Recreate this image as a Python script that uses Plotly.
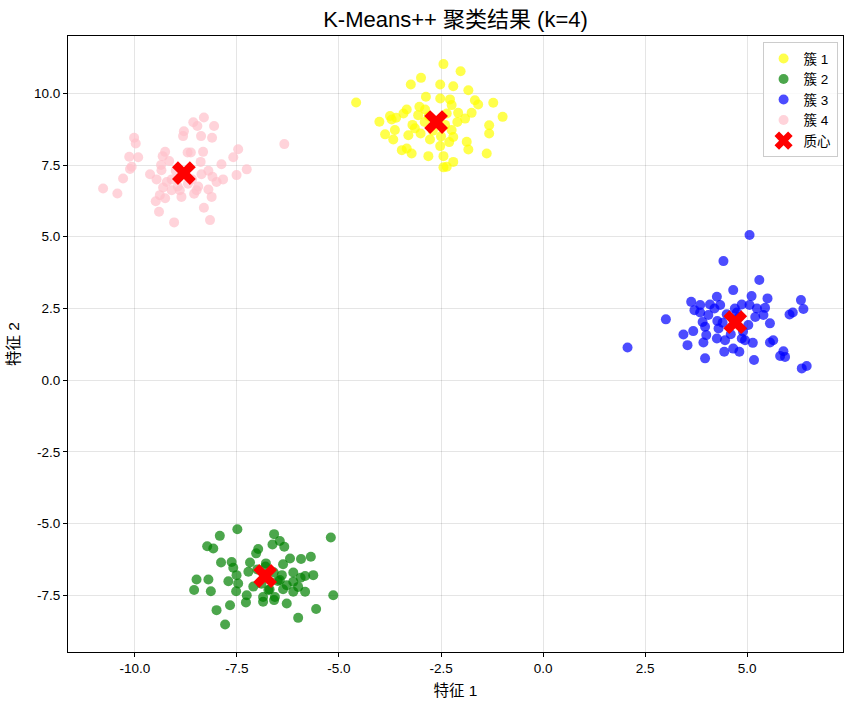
import plotly.graph_objects as go

# Cluster 1 (yellow)
c1_x = [-2.44, -2.02, -2.99, -3.24, -2.52, -2.20, -1.83, -4.58, -2.87, -2.52, -2.28, -1.67, -1.22, -1.59,
        -2.24, -3.03, -2.89, -3.34, -3.42, -2.08, -1.75, -0.99, -3.75, -3.60, -1.91, -4.01, -3.71, -3.06,
        -2.36, -1.32, -1.32, -3.14, -3.63, -2.24, -3.87, -3.30, -2.20, -3.67, -2.77, -1.87, -2.52, -3.46,
        -3.34, -3.22, -2.81, -1.83, -1.38, -2.44, -2.20, -2.36, -2.44, -2.9, -2.7, -2.4, -2.1, -3.0, -2.5,
        -2.8, -2.3, -3.2]
c1_y = [11.02, 10.77, 10.54, 10.31, 10.31, 10.25, 10.11, 9.68, 9.88, 9.82, 9.79, 9.76, 9.67, 9.61,
        9.59, 9.53, 9.44, 9.44, 9.30, 9.32, 9.32, 9.18, 9.21, 9.15, 9.12, 9.01, 9.09, 9.24,
        9.30, 8.89, 8.60, 8.78, 8.72, 8.72, 8.57, 8.54, 8.48, 8.39, 8.39, 8.31, 8.16, 8.02,
        8.08, 7.90, 7.81, 8.04, 7.90, 7.81, 7.61, 7.44, 7.42, 9.0, 8.7, 8.9, 9.0, 8.6, 8.5,
        9.2, 8.3, 8.9]

# Cluster 2 (green)
c2_x = [-7.49, -6.59, -5.20, -7.92, -6.45, -6.63, -6.34, -8.23, -8.08, -6.98, -7.03, -5.69, -5.93, -6.20,
        -7.89, -7.63, -7.18, -6.79, -6.37, -7.59, -7.22, -6.12, -5.63, -5.83, -5.94, -7.51, -8.49, -8.20,
        -7.71, -6.45, -6.12, -7.47, -6.28, -6.00, -8.55, -8.14, -7.52, -6.73, -6.37, -6.12, -5.83, -5.14,
        -7.26, -6.86, -6.57, -7.28, -6.86, -6.59, -6.28, -7.67, -8.00, -5.56, -6.00, -7.79,
        -6.6, -6.9, -6.5, -7.0, -6.7, -6.4, -7.1, -6.8]
c2_y = [-5.20, -5.37, -5.49, -5.43, -5.61, -5.73, -5.81, -5.79, -5.87, -5.89, -6.04, -6.16, -6.24, -6.22,
        -6.36, -6.34, -6.36, -6.39, -6.42, -6.54, -6.68, -6.71, -6.80, -6.83, -6.89, -6.80, -6.95, -6.95,
        -7.01, -6.97, -7.03, -7.09, -7.15, -7.21, -7.32, -7.36, -7.36, -7.32, -7.29, -7.38, -7.38, -7.50,
        -7.50, -7.56, -7.56, -7.75, -7.73, -7.67, -7.79, -7.85, -8.02, -7.98, -8.29, -8.52,
        -6.7, -7.1, -7.0, -6.6, -7.3, -6.8, -7.2, -6.5]

# Cluster 3 (blue)
c3_x = [5.06, 4.42, 5.30, 4.66, 4.26, 5.11, 5.50, 6.32, 3.63, 3.85, 4.09, 4.34, 4.87, 5.06, 5.24, 5.44,
        3.71, 6.38, 6.12, 6.04, 3.85, 4.05, 4.75, 5.40, 3.01, 3.91, 4.27, 5.56, 5.03, 3.97, 3.68, 3.44,
        4.00, 4.26, 4.46, 4.87, 4.95, 3.93, 5.14, 5.56, 5.64, 3.54, 2.07, 4.66, 4.81, 4.44, 5.89, 5.81,
        5.93, 3.97, 5.17, 6.34, 6.46, 4.5, 4.8, 4.4, 4.9, 4.6, 4.2, 5.2, 4.7, 4.3]
c3_y = [5.06, 4.15, 3.49, 3.14, 2.91, 2.93, 2.85, 2.79, 2.73, 2.62, 2.64, 2.62, 2.64, 2.62, 2.50, 2.52,
        2.44, 2.48, 2.36, 2.29, 2.36, 2.27, 2.36, 2.27, 2.12, 2.03, 2.06, 1.98, 1.92, 1.86, 1.71, 1.59,
        1.57, 1.45, 1.39, 1.45, 1.39, 1.31, 1.30, 1.31, 1.39, 1.22, 1.14, 1.10, 0.99, 0.99, 1.01, 0.84,
        0.81, 0.76, 0.70, 0.41, 0.49, 2.3, 2.2, 2.0, 1.7, 1.6, 2.5, 2.2, 2.5, 1.8]

# Cluster 4 (pink)
c4_x = [-8.31, -8.57, -8.47, -8.06, -8.80, -8.82, -8.38, -8.11, -10.02, -9.98, -6.34, -7.47, -9.26, -8.71,
        -8.63, -8.33, -10.14, -9.92, -9.32, -7.59, -9.16, -8.39, -9.36, -7.88, -10.08, -10.12, -7.26, -9.35,
        -7.51, -9.63, -8.37, -8.10, -10.29, -9.47, -7.84, -9.22, -8.00, -10.78, -10.43, -9.31, -9.10, -8.90,
        -8.49, -8.20, -9.39, -8.86, -8.12, -9.49, -9.26, -8.31, -9.41, -8.16, -9.04,
        -8.6, -8.45, -8.95, -8.55, -9.0, -8.2, -9.1, -8.7]
c4_y = [9.16, 8.99, 8.86, 8.86, 8.68, 8.51, 8.51, 8.45, 8.45, 8.25, 8.23, 8.05, 7.96, 7.94,
        7.94, 7.96, 7.79, 7.77, 7.81, 7.77, 7.64, 7.61, 7.50, 7.53, 7.44, 7.36, 7.35, 7.32,
        7.15, 7.18, 7.18, 7.09, 7.03, 7.00, 7.00, 6.91, 6.91, 6.68, 6.51, 6.72, 6.62, 6.62,
        6.62, 6.65, 6.45, 6.39, 6.39, 6.24, 6.34, 6.01, 5.87, 5.58, 5.50,
        7.0, 6.75, 6.75, 6.5, 7.3, 7.3, 7.0, 6.85]

# Centroids
cen_x = [-2.62, -6.81, 4.71, -8.80]
cen_y = [9.00, -6.83, 2.02, 7.22]

names = ["簇 1", "簇 2", "簇 3", "簇 4"]
colors = ["yellow", "green", "blue", "pink"]
xs = [c1_x, c2_x, c3_x, c4_x]
ys = [c1_y, c2_y, c3_y, c4_y]

x_tickvals = [-10, -7.5, -5, -2.5, 0, 2.5, 5]
x_ticktext = ["-10.0", "-7.5", "-5.0", "-2.5", "0.0", "2.5", "5.0"]
y_tickvals = [-7.5, -5, -2.5, 0, 2.5, 5, 7.5, 10]
y_ticktext = ["-7.5", "-5.0", "-2.5", "0.0", "2.5", "5.0", "7.5", "10.0"]

FONT = "Liberation Sans, Arial, Noto Sans CJK SC, sans-serif"

fig = go.Figure()
for x, y, n, c in zip(xs, ys, names, colors):
    fig.add_trace(go.Scatter(x=x, y=y, mode="markers", name=n,
                             marker=dict(color=c, size=10, opacity=0.7, line=dict(width=0))))
fig.add_trace(go.Scatter(x=cen_x, y=cen_y, mode="markers", name="质心",
                         marker=dict(color="red", symbol="x", size=21, line=dict(width=0))))

axis_common = dict(showgrid=True, gridcolor="rgba(0,0,0,0.1)", gridwidth=1,
                   showline=True, linecolor="black", linewidth=1.2, mirror=True,
                   ticks="outside", ticklen=4, tickcolor="black", zeroline=False,
                   automargin=False,
                   tickfont=dict(size=13.5, color="black", family=FONT))

fig.update_layout(
    width=852, height=707,
    margin=dict(l=68, r=9, t=36, b=55),
    paper_bgcolor="white", plot_bgcolor="white",
    font=dict(family=FONT, color="black"),
    title=dict(text="K-Means++ 聚类结果 (k=4)", x=0.5, xref="paper", xanchor="center",
               y=0.972, yanchor="middle", yref="container",
               font=dict(size=22, color="black", family=FONT), automargin=False),
    xaxis=dict(range=[-11.64, 7.35], tickvals=x_tickvals, ticktext=x_ticktext,
               title=dict(text="特征 1", font=dict(size=15.5, family=FONT), standoff=9),
               **axis_common),
    yaxis=dict(range=[-9.48, 12.0], tickvals=y_tickvals, ticktext=y_ticktext,
               title=dict(text="特征 2", font=dict(size=15.5, family=FONT), standoff=10),
               **axis_common),
    legend=dict(x=0.993, y=0.99, xanchor="right", yanchor="top",
                bgcolor="rgba(255,255,255,0.8)", bordercolor="#cccccc", borderwidth=1,
                font=dict(size=13.5, family=FONT), itemsizing="trace",
                tracegroupgap=0),
    showlegend=True,
)

fig.write_html("out.html", config={"displayModeBar": False},
               post_script="document.body.style.margin='0';")
